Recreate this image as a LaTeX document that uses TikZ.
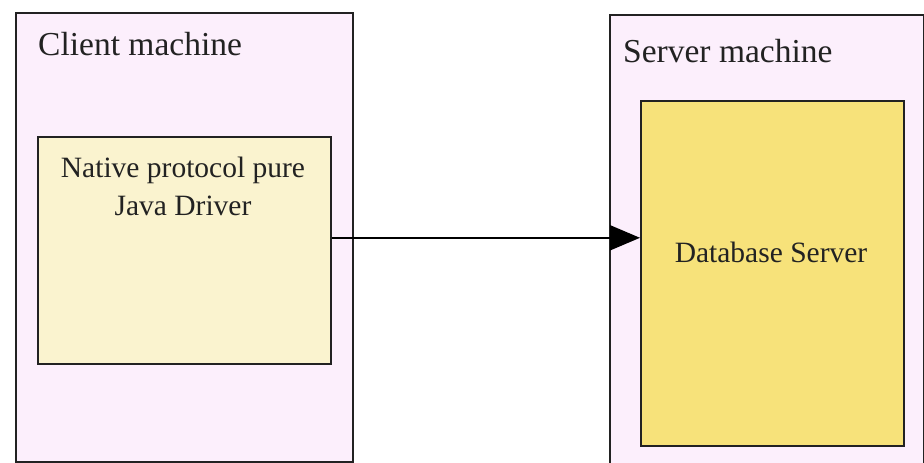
\documentclass[tikz,border=0pt]{standalone}
\usepackage{fontspec}
\setmainfont{Liberation Serif}
\usetikzlibrary{arrows.meta}
\definecolor{machinefill}{HTML}{FCEFFC}
\definecolor{driverfill}{HTML}{FAF3CF}
\definecolor{dbfill}{HTML}{F7E27A}
\definecolor{inkc}{HTML}{222222}
\tikzset{
  machine/.style={draw=inkc, line width=1.6pt, fill=machinefill, anchor=north west, inner sep=0pt},
  component/.style={draw=inkc, line width=1.6pt, anchor=north west, inner sep=0pt},
  title/.style={font=\fontsize{33.5}{38}\selectfont, text=inkc, inner sep=0pt},
  label/.style={font=\fontsize{29.5}{34}\selectfont, text=inkc, inner sep=0pt},
  link/.style={draw=black, line width=1.8pt, -{Triangle[length=30pt, width=25pt]}}
}
\begin{document}
\begin{tikzpicture}[x=1pt, y=-1pt]
  \useasboundingbox (0,0) rectangle (924,463);
  \fill[white] (0,0) rectangle (924,463);
  \clip (0,0) rectangle (924,463);

  % machines
  \node[machine, minimum width=337pt, minimum height=449pt] (client) at (15,12) {};
  \node[machine, minimum width=314pt, minimum height=460pt] (server) at (609,14) {};

  % components inside the machines
  \node[component, fill=driverfill, minimum width=293pt, minimum height=227pt] (driver) at (37,136) {};
  \node[component, fill=dbfill, minimum width=263pt, minimum height=345pt] (db) at (640,100) {};

  % titles
  \node[title, anchor=base west] (clientlbl) at (38,55) {Client machine};
  \node[title, anchor=base west] (serverlbl) at (623,62) {Server machine};
  \node[label, anchor=base] (driverlbl1) at (183,177) {Native protocol pure};
  \node[label, anchor=base] (driverlbl2) at (183,215) {Java Driver};
  \node[label, anchor=base] (dblbl) at (771,262) {Database Server};

  % connection from driver to database
  \draw[link] ([yshift=12.5pt]driver.east) -- ([yshift=12.5pt]driver.east -| db.west);
\end{tikzpicture}
\end{document}
